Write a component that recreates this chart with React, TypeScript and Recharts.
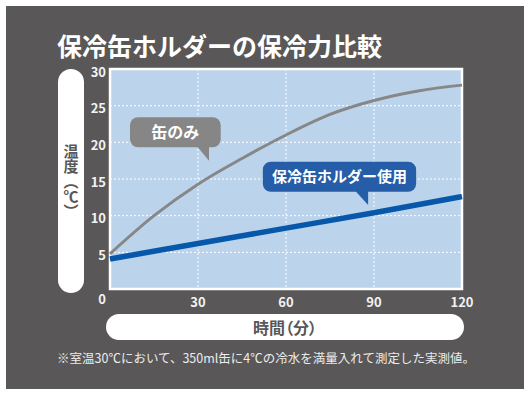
import React from 'react';
import { LineChart, Line, XAxis, YAxis, CartesianGrid, ReferenceArea, ReferenceDot } from 'recharts';

const minutes = [0, 15, 30, 45, 60, 75, 90, 105, 120];
const canOnly = [4.8, 10.0, 14.3, 17.8, 21.0, 23.8, 25.7, 27.0, 27.8];
const holderMinutes = [0, 30, 60, 90, 120];
const holderUsed = [4.1, 6.2, 8.3, 10.4, 12.6];
const xTicks = [0, 30, 60, 90, 120];
const yTicks = [0, 5, 10, 15, 20, 25, 30];

const title = '保冷缶ホルダーの保冷力比較';
const yLabel = '温度（℃）';
const xLabel = '時間（分）';
const note = '※室温30℃において、350ml缶に4℃の冷水を満量入れて測定した実測値。';
const canOnlyName = '缶のみ';
const holderName = '保冷缶ホルダー使用';
// callout tail tips, in data coordinates
const canOnlyTip = { x: 33.75, y: 17.5 };
const holderTip = { x: 88, y: 11.45 };

const data = minutes.map((m, i) => {
  const j = holderMinutes.indexOf(m);
  return { m, canOnly: canOnly[i], holder: j >= 0 ? holderUsed[j] : undefined };
});

const FONT = "'Noto Sans CJK JP', 'Noto Sans', sans-serif";
const BG = '#595757';

const XTick = (props: any) => {
  const { x, y, payload } = props;
  if (payload.value === 0) return null;
  return (
    <text x={x} y={y + 18} textAnchor="middle" fill="#f2f2f2" fontSize={13} fontWeight={700} fontFamily={FONT}>
      {payload.value}
    </text>
  );
};

const YTick = (props: any) => {
  const { x, y, payload } = props;
  const dy = payload.value === 0 ? 14.5 : 7.5;
  return (
    <text x={x - 4} y={y + dy} textAnchor="end" fill="#f2f2f2" fontSize={13} fontWeight={700} fontFamily={FONT}>
      {payload.value}
    </text>
  );
};

const makeBubble = (label: string, color: string, left: number, right: number, tailW: number, fontSize: number) => (props: any) => {
  const { cx, cy } = props;
  const top = cy - 43.4;
  const bottom = cy - 13.3;
  const x0 = cx + left;
  const x1 = cx + right;
  const tcx = (x0 + x1) / 2;
  return (
    <g>
      <rect x={x0} y={top} width={x1 - x0} height={bottom - top} rx={8} ry={8} fill={color} />
      <path d={`M${cx - tailW},${bottom - 1} L${cx},${bottom - 1} L${cx},${cy} Z`} fill={color} />
      <text x={tcx} y={(top + bottom) / 2 + fontSize * 0.36} textAnchor="middle" fill="#fff" fontSize={fontSize} fontWeight={700} fontFamily={FONT}>
        {label}
      </text>
    </g>
  );
};

const GrayBubble = makeBubble(canOnlyName, '#868686', -79, 11.7, 12, 16);
const BlueBubble = makeBubble(holderName, '#255da9', -105.3, 48, 13, 15);

export default function App() {
  return (
    <div style={{ position: 'absolute', left: 0, top: 0, width: 532, height: 397, background: '#fff', fontFamily: FONT }}>
      <div style={{ position: 'absolute', left: 6, top: 6, width: 518, height: 383, background: BG }} />
      <div style={{ position: 'absolute', left: 57, top: 34, fontSize: 25, lineHeight: '22px', fontWeight: 700, color: '#fff', whiteSpace: 'nowrap' }}>
        {title}
      </div>
      <div style={{ position: 'absolute', left: 58, top: 69, width: 26, height: 224, borderRadius: 13, background: '#fff', display: 'flex', alignItems: 'center', justifyContent: 'center' }}>
        <div style={{ writingMode: 'vertical-rl', fontSize: 15, fontWeight: 700, color: BG, lineHeight: 1 }}>{yLabel}</div>
      </div>
      <div style={{ position: 'absolute', left: 106, top: 314, width: 358, height: 26, borderRadius: 13, background: '#fff', display: 'flex', alignItems: 'center', justifyContent: 'center' }}>
        <div style={{ fontSize: 16, fontWeight: 700, color: BG, fontFeatureSettings: '"palt"', lineHeight: 1 }}>{xLabel}</div>
      </div>
      <div style={{ position: 'absolute', left: 57, top: 351, fontSize: 12.5, lineHeight: '13px', color: '#ececec', whiteSpace: 'nowrap' }}>
        {note}
      </div>
      <div style={{ position: 'absolute', left: 0, top: 0 }}>
        <LineChart width={532} height={397} data={data} margin={{ top: 69, right: 70, bottom: 78, left: 70 }}>
          <CartesianGrid fill="#bbd4ec" stroke="#ffffff" strokeDasharray="2 2" strokeWidth={1} />
          <XAxis dataKey="m" type="number" domain={[0, 120]} ticks={xTicks} axisLine={false} tickLine={false} tickSize={0} tickMargin={0} height={30} tick={<XTick />} interval={0} />
          <YAxis type="number" domain={[0, 30]} ticks={yTicks} axisLine={false} tickLine={false} tickSize={0} tickMargin={0} width={40} tick={<YTick />} interval={0} />
          <ReferenceArea x1={0} x2={120} y1={0} y2={30} fill="none" stroke="#ffffff" strokeWidth={2.5} fillOpacity={0} />
          <Line type="monotone" dataKey="canOnly" stroke="#878787" strokeWidth={3} dot={false} isAnimationActive={false} />
          <Line type="monotone" dataKey="holder" stroke="#0758aa" strokeWidth={5.5} dot={false} connectNulls isAnimationActive={false} />
          <ReferenceDot x={canOnlyTip.x} y={canOnlyTip.y} r={0} shape={<GrayBubble />} />
          <ReferenceDot x={holderTip.x} y={holderTip.y} r={0} shape={<BlueBubble />} />
        </LineChart>
      </div>
    </div>
  );
}
